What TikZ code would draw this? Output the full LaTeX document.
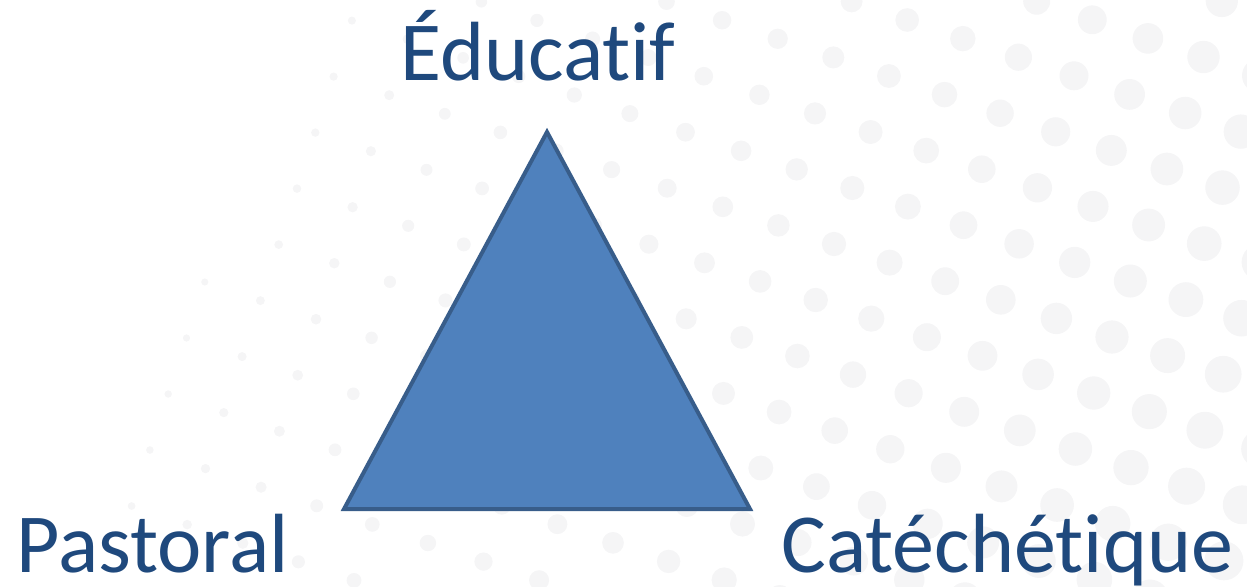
\documentclass[tikz,border=0pt]{standalone}
\usepackage{fontspec}
\setmainfont{Carlito}[Ligatures=NoCommon]
\definecolor{txtblue}{HTML}{1F497D}
\definecolor{trifill}{HTML}{4F81BD}
\definecolor{triline}{HTML}{385D8A}
\definecolor{dotgray}{HTML}{F5F5F6}
\begin{document}
\begin{tikzpicture}[x=0.5pt,y=-0.5pt,
  lbl/.style={text=txtblue,font=\fontsize{42}{50}\selectfont,inner sep=0pt},
  tri/.style={fill=trifill,draw=triline,line width=2pt,line join=miter}]
\useasboundingbox (0,0) rectangle (1247,586);
\begin{scope}
\clip (0,0) rectangle (1247,586);
\foreach \i in {-18,...,8}{
  \foreach \j in {-8,...,8}{
    \pgfmathsetmacro{\px}{834+55.6*\i-18.3*\j}
    \pgfmathsetmacro{\py}{244+18.6*\i+56*\j}
    \pgfmathsetmacro{\rr}{0.014*\px+0.006*\py-1}
    \pgfmathparse{(\rr>3.5 && \px>-30 && \px<1290 && \py>-30 && \py<620) ? 1 : 0}
    \ifnum\pgfmathresult=1
      \fill[dotgray] (\px,\py) circle[radius=\rr];
    \fi
  }
}
\end{scope}
\coordinate (A) at (547,132);
\coordinate (B) at (344,509);
\coordinate (C) at (750,509);
\draw[tri] (A) -- (B) -- (C) -- cycle;
\node[lbl,anchor=base] (edu) at (538,80) {Éducatif};
\node[lbl,anchor=base west] (pas) at (16,572) {Pastoral};
\node[lbl,anchor=base west] (cat) at (781,572) {Catéchétique};
\end{tikzpicture}
\end{document}
